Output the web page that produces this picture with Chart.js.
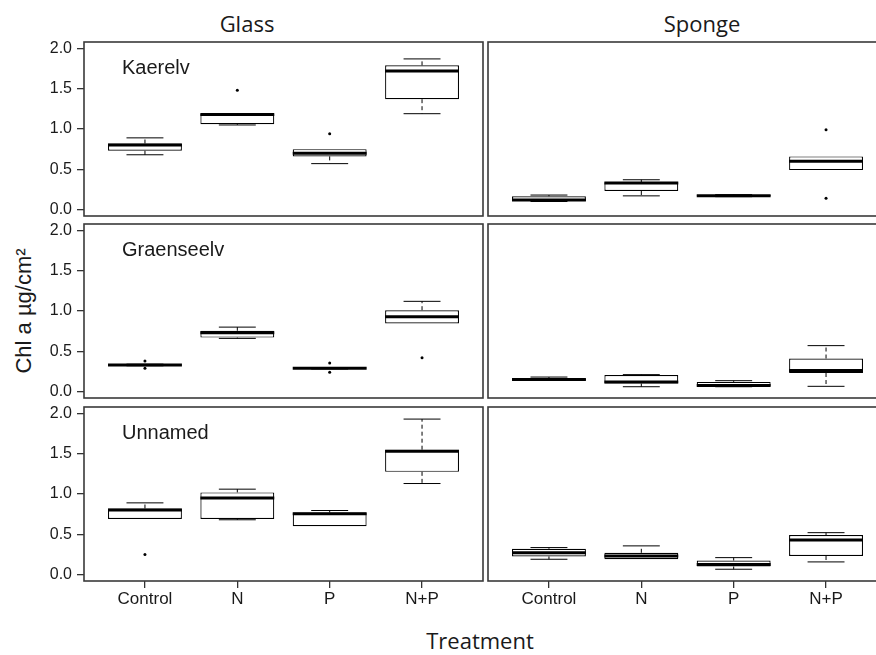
<!DOCTYPE html>
<html>
<head>
<meta charset="utf-8">
<script src="https://cdn.jsdelivr.net/npm/chart.js@4.4.1/dist/chart.umd.min.js"></script>
<style>
  body { margin: 0; width: 876px; height: 655px; overflow: hidden; background: #fff; position: relative; }
  canvas { position: absolute; }
  .lbl { position: absolute; white-space: nowrap; color: #1a1a1a; line-height: 22px; }
  .head { font-family: "Open Sans", "Noto Sans", sans-serif; font-size: 22px; transform: translateX(-50%); }
  .ylab { font-family: "Liberation Sans", Arial, sans-serif; font-size: 22px; transform: translate(-50%, -50%) rotate(-90deg); }
</style>
</head>
<body>
<div class="lbl head" style="left:247px; top:12px;">Glass</div>
<div class="lbl head" style="left:702px; top:12px;">Sponge</div>
<div class="lbl head" style="left:480px; top:629px;">Treatment</div>
<div class="lbl ylab" style="left:24px; top:311px;">Chl a µg/cm²</div>
<script>
const treatments = ["Control", "N", "P", "N+P"];
const streams = ["Kaerelv", "Graenseelv", "Unnamed"];
const yTicks = [0, 0.5, 1.0, 1.5, 2.0];

// five-number summaries per treatment: [min, q1, median, q3, max]
const glassKaerelv = [[0.68, 0.73, 0.80, 0.82, 0.89], [1.05, 1.06, 1.18, 1.19, 1.19], [0.57, 0.66, 0.70, 0.75, 0.75], [1.19, 1.37, 1.72, 1.79, 1.87]];
const glassKaerelvOut = [[], [1.48], [0.94], []];
const spongeKaerelv = [[0.10, 0.105, 0.12, 0.165, 0.18], [0.17, 0.23, 0.33, 0.34, 0.37], [0.16, 0.165, 0.17, 0.18, 0.185], [0.49, 0.49, 0.60, 0.66, 0.66]];
const spongeKaerelvOut = [[], [], [], [0.99, 0.14]];

const glassGraenseelv = [[0.32, 0.325, 0.33, 0.335, 0.34], [0.66, 0.67, 0.73, 0.755, 0.80], [0.28, 0.285, 0.29, 0.30, 0.30], [0.845, 0.845, 0.93, 1.01, 1.12]];
const glassGraenseelvOut = [[0.38, 0.29], [], [0.355, 0.24], [0.42]];
const spongeGraenseelv = [[0.14, 0.14, 0.15, 0.155, 0.18], [0.06, 0.10, 0.12, 0.205, 0.21], [0.06, 0.065, 0.075, 0.12, 0.135], [0.065, 0.23, 0.26, 0.41, 0.57]];
const spongeGraenseelvOut = [[], [], [], []];

const glassUnnamed = [[0.69, 0.69, 0.80, 0.82, 0.89], [0.68, 0.69, 0.95, 1.02, 1.06], [0.60, 0.60, 0.755, 0.77, 0.795], [1.13, 1.275, 1.53, 1.55, 1.93]];
const glassUnnamedOut = [[0.25], [], [], []];
const spongeUnnamed = [[0.19, 0.225, 0.27, 0.32, 0.335], [0.19, 0.19, 0.23, 0.27, 0.356], [0.066, 0.10, 0.124, 0.174, 0.21], [0.157, 0.23, 0.43, 0.49, 0.52]];
const spongeUnnamedOut = [[], [], [], []];

const panels = [
  [glassKaerelv, glassKaerelvOut, spongeKaerelv, spongeKaerelvOut],
  [glassGraenseelv, glassGraenseelvOut, spongeGraenseelv, spongeGraenseelvOut],
  [glassUnnamed, glassUnnamedOut, spongeUnnamed, spongeUnnamedOut]
];

// layout of the facet grid (page pixels)
const panelLeft = [84, 488];
const panelTop = [42, 224, 407];
const panelW = 399;
const panelH = 174;
const pad = 16;
const boxWidth = 0.8;

const boxplotPlugin = {
  id: "boxplot",
  afterDatasetsDraw(chart, args, opts) {
    const { ctx, chartArea: a, scales: { x, y } } = chart;
    ctx.save();
    ctx.strokeStyle = "#000";
    opts.stats.forEach((s, i) => {
      const cx = x.getPixelForValue(i + 1);
      const half = x.getPixelForValue(i + 1 + boxWidth / 2) - cx;
      const cap = half / 2;
      const [mn, q1, med, q3, mx] = s.map(v => y.getPixelForValue(v));
      ctx.lineWidth = 1;
      // dashed whiskers
      ctx.setLineDash([4, 3]);
      ctx.beginPath();
      if (s[4] > s[3]) { ctx.moveTo(cx, q3); ctx.lineTo(cx, mx); }
      if (s[0] < s[1]) { ctx.moveTo(cx, q1); ctx.lineTo(cx, mn); }
      ctx.stroke();
      ctx.setLineDash([]);
      ctx.beginPath();
      if (s[4] > s[3]) { ctx.moveTo(cx - cap, mx); ctx.lineTo(cx + cap, mx); }
      if (s[0] < s[1]) { ctx.moveTo(cx - cap, mn); ctx.lineTo(cx + cap, mn); }
      ctx.stroke();
      // median
      ctx.lineWidth = 3;
      ctx.beginPath();
      ctx.moveTo(cx - half, med);
      ctx.lineTo(cx + half, med);
      ctx.stroke();
    });
    // panel frame
    ctx.strokeStyle = "#3a3a3a";
    ctx.lineWidth = 1.6;
    ctx.strokeRect(a.left, a.top, a.right - a.left, a.bottom - a.top);
    if (opts.label) {
      ctx.fillStyle = "#1a1a1a";
      ctx.font = '20px "Liberation Sans", Arial, sans-serif';
      ctx.textBaseline = "alphabetic";
      ctx.fillText(opts.label, a.left + 38, a.top + 31.5);
    }
    ctx.restore();
  }
};

function makePanel(row, col, stats, outliers) {
  const isLeft = col === 0;
  const isBottom = row === panelTop.length - 1;
  const canvas = document.createElement("canvas");
  const left = isLeft ? 0 : panelLeft[1] - 8;
  const top = panelTop[row] - pad;
  const w = isLeft ? panelLeft[0] + panelW + 8 : 8 + panelW + 8;
  const h = pad + panelH + (isBottom ? 40 : pad);
  canvas.width = w;
  canvas.height = h;
  canvas.style.left = left + "px";
  canvas.style.top = top + "px";
  canvas.style.width = w + "px";
  canvas.style.height = h + "px";
  document.body.appendChild(canvas);

  const outPoints = [];
  outliers.forEach((list, i) => list.forEach(v => outPoints.push({ x: i + 1, y: v })));

  new Chart(canvas, {
    type: "bar",
    data: {
      datasets: [{
        data: stats.map((s, i) => ({ x: i + 1, y: [s[1], s[3]] })),
        backgroundColor: "#fff",
        borderColor: "#000",
        borderWidth: 1.2,
        borderSkipped: false,
        barPercentage: boxWidth,
        categoryPercentage: 1
      }, {
        type: "scatter",
        data: outPoints,
        pointRadius: 1.5,
        pointBackgroundColor: "#000",
        pointBorderColor: "#000",
        pointBorderWidth: 0
      }]
    },
    options: {
      responsive: false,
      animation: false,
      layout: { padding: { left: isLeft ? 0 : 8, right: 8, top: pad, bottom: isBottom ? 0 : pad } },
      plugins: {
        legend: { display: false },
        tooltip: { enabled: false },
        boxplot: { stats: stats, label: isLeft ? streams[row] : "" }
      },
      scales: {
        x: {
          type: "linear",
          min: 0.34,
          max: 4.66,
          offset: false,
          display: isBottom,
          afterBuildTicks: s => { s.ticks = treatments.map((t, i) => ({ value: i + 1 })); },
          afterFit: s => { if (isBottom) s.height = 40; },
          ticks: {
            callback: v => treatments[v - 1],
            font: { family: '"Liberation Sans", Arial, sans-serif', size: 17 },
            color: "#1a1a1a",
            padding: 1,
            maxRotation: 0
          },
          grid: { offset: false, drawOnChartArea: false, drawTicks: true, tickLength: 7, color: "#333", lineWidth: 1.3 },
          border: { display: false }
        },
        y: {
          type: "linear",
          min: -0.08,
          max: 2.08,
          display: isLeft,
          afterBuildTicks: s => { s.ticks = yTicks.map(v => ({ value: v })); },
          afterFit: s => { if (isLeft) s.width = panelLeft[0]; },
          ticks: {
            callback: v => v.toFixed(1),
            font: { family: '"Liberation Sans", Arial, sans-serif', size: 16 },
            color: "#1a1a1a",
            padding: 5
          },
          grid: { drawOnChartArea: false, drawTicks: true, tickLength: 7, color: "#333", lineWidth: 1.3 },
          border: { display: false }
        }
      }
    },
    plugins: [boxplotPlugin]
  });
}

panels.forEach((p, row) => {
  makePanel(row, 0, p[0], p[1]);
  makePanel(row, 1, p[2], p[3]);
});
</script>
</body>
</html>
